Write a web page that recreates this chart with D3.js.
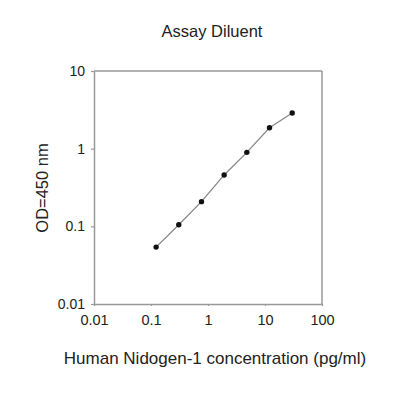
<!DOCTYPE html>
<html><head><meta charset="utf-8">
<script src="https://cdn.jsdelivr.net/npm/d3@7"></script>
<style>body{margin:0;background:#fff}svg{display:block}text{font-family:"Liberation Sans",Arial,sans-serif;fill:#222}</style>
</head><body><svg id="c" width="400" height="400"></svg>
<script>
const concentrations = [0.123, 0.307, 0.768, 1.92, 4.8, 12, 30];
const odValues = [0.054, 0.105, 0.208, 0.459, 0.896, 1.86, 2.88];
const xTicks = [0.01, 0.1, 1, 10, 100];
const yTicks = [0.01, 0.1, 1, 10];
const titleText = "Assay Diluent";
const xLabel = "Human Nidogen-1 concentration (pg/ml)";
const yLabel = "OD=450 nm";

const svg = d3.select("#c");
const L = 94, R = 322, T = 71, B = 304;
const x = d3.scaleLog().domain([0.01, 100]).range([L, R]);
const y = d3.scaleLog().domain([0.01, 10]).range([B, T]);
const axisColor = "#999";
const fmt = d => String(d);

svg.append("line").attr("x1", L).attr("x2", R).attr("y1", T).attr("y2", T).attr("stroke", axisColor).attr("stroke-width", 1.5);
svg.append("line").attr("x1", R).attr("x2", R).attr("y1", T).attr("y2", B).attr("stroke", axisColor).attr("stroke-width", 1.5);

const xa = svg.append("g").attr("transform", `translate(0,${B})`)
  .call(d3.axisBottom(x).tickValues(xTicks).tickFormat(fmt).tickSize(2).tickPadding(9).tickSizeOuter(0));
const ya = svg.append("g").attr("transform", `translate(${L},0)`)
  .call(d3.axisLeft(y).tickValues(yTicks).tickFormat(fmt).tickSize(3).tickPadding(6).tickSizeOuter(0));
[xa, ya].forEach(g => {
  g.select(".domain").attr("stroke", axisColor).attr("stroke-width", 1.5);
  g.selectAll(".tick line").attr("stroke", axisColor).attr("stroke-width", 1.2);
  g.selectAll(".tick text").style("font-size", "14.5px").attr("fill", "#222");
});
ya.selectAll(".tick text").style("font-size", "14px");

const line = d3.line().x((d, i) => x(concentrations[i])).y(d => y(d));
svg.append("path").datum(odValues).attr("d", line).attr("fill", "none").attr("stroke", "#888").attr("stroke-width", 1.3);
svg.selectAll("circle.pt").data(odValues).join("circle").attr("class", "pt")
  .attr("cx", (d, i) => x(concentrations[i])).attr("cy", d => y(d)).attr("r", 2.7).attr("fill", "#111");

svg.append("text").attr("x", 212).attr("y", 37).attr("text-anchor", "middle").style("font-size", "16.5px").text(titleText);
svg.append("text").attr("x", 215).attr("y", 364).attr("text-anchor", "middle").style("font-size", "17px").text(xLabel);
svg.append("text").attr("transform", "translate(48,188) rotate(-90)").attr("text-anchor", "middle").style("font-size", "16.5px").text(yLabel);
</script></body></html>
